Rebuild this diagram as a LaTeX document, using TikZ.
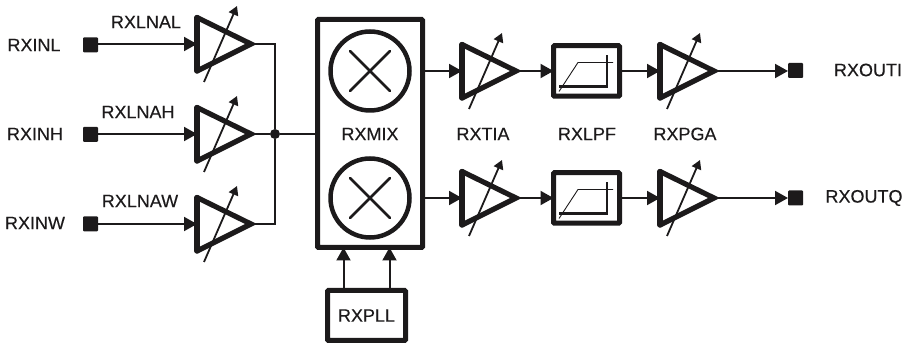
\documentclass[tikz,border=0pt]{standalone}
\usepackage{fontspec}
\setmainfont{Liberation Sans}
\newfontfamily\lblfont[FakeBold=0.3]{Liberation Sans}
\usetikzlibrary{arrows.meta,calc}
\definecolor{ink}{HTML}{1C1A1B}
\tikzset{
  ampline/.style={draw=ink,line width=5.2pt,line cap=round,line join=miter,miter limit=10},
  gain/.style={draw=ink,line width=1.8pt,-{Triangle[length=9pt,width=10pt]}},
  wire/.style={draw=ink,line width=2pt},
  sig/.style={wire,-{Triangle[length=13pt,width=14pt]}},
  pad/.style={rectangle,fill=ink,rounded corners=1pt,minimum size=15pt,inner sep=0pt,outer sep=0pt},
  block/.style={rectangle,draw=ink,line width=5pt,rounded corners=1pt,inner sep=0pt,outer sep=0pt},
  lpfbox/.style={block,minimum width=66pt,minimum height=50.5pt},
  mixc/.style={circle,draw=ink,line width=4.5pt,minimum size=79pt,inner sep=0pt,outer sep=0pt},
  lbl/.style={text=ink,font=\lblfont\fontsize{18}{20}\selectfont,inner sep=0pt},
  junc/.style={circle,fill=ink,minimum size=10pt,inner sep=0pt,outer sep=0pt}
}
% amplifier: #1 = name of the tip, #1i = middle of the input side
\newcommand{\ampl}[3]{%
  \coordinate (#1) at (#2,#3);
  \coordinate (#1i) at ($(#1)+(-54,0)$);
  \coordinate (#1t) at ($(#1)+(-54,-26.5)$);
  \coordinate (#1b) at ($(#1)+(-54,27)$);
  \draw[ampline] (#1t) -- (#1) -- (#1b);
  \draw[ampline] (#1t) -- (#1b);
  \draw[gain] ($(#1)+(-47,38)$) -- ($(#1)+(-14,-38)$);
}
\newcommand{\lpfplot}[1]{%
  \draw[ink,line width=2.2pt] ($(#1.center)+(20.5,-15.5)$) -- ($(#1.center)+(20.5,15.5)$) -- ($(#1.center)+(-27.5,15.5)$);
  \draw[ink,line width=0.9pt] ($(#1.center)+(-27.5,20.5)$) -- ($(#1.center)+(-8.5,-8.5)$) -- ($(#1.center)+(26.5,-8.5)$);
}
\newcommand{\mixx}[1]{%
  \draw[ink,line width=2.5pt,line cap=round] ($(#1.center)+(-20,-20)$) -- ($(#1.center)+(20,20)$);
  \draw[ink,line width=2.5pt,line cap=round] ($(#1.center)+(-20,20)$) -- ($(#1.center)+(20,-20)$);
}
\begin{document}
\begin{tikzpicture}[x=1pt,y=-1pt]
\useasboundingbox (0,0) rectangle (908,344);
% input pads
\node[pad] (pl) at (90.5,45) {};
\node[pad] (ph) at (90.5,134.5) {};
\node[pad] (pw) at (90.5,224) {};
\node[lbl] (tinl) at (34,45) {RXINL};
\node[lbl] (tinh) at (35,134) {RXINH};
\node[lbl] (tinw) at (35,223) {RXINW};
\node[lbl] (tlnal) at (146,22) {RXLNAL};
\node[lbl] (tlnah) at (138,112) {RXLNAH};
\node[lbl] (tlnaw) at (140,201) {RXLNAW};
% LNAs
\ampl{la}{251}{44}
\ampl{lb}{251}{134}
\ampl{lc}{251}{224}
\draw[sig] (pl.east |- la) -- (lai);
\draw[sig] (ph.east |- lb) -- (lbi);
\draw[sig] (pw.east |- lc) -- (lci);
% mixer
\node[block,minimum width=105pt,minimum height=228pt] (mix) at (370,133.5) {};
\node[mixc] (ma) at (370,71) {};
\node[mixc] (mb) at (370,198) {};
\mixx{ma}
\mixx{mb}
\node[lbl] (tmix) at (370,134) {RXMIX};
% junction
\node[junc] (j) at (275,134) {};
\draw[wire] (la) -| (j);
\draw[wire] (lc) -| (j);
\draw[wire] (lb) -- (j);
\draw[wire] (j) -- (j -| mix.west);
% PLL
\node[block,minimum width=78pt,minimum height=50pt] (pll) at (366.5,315.5) {};
\node[lbl] (tpll) at (366.5,315.5) {RXPLL};
\draw[sig] ([xshift=-23pt]pll.north) -- ([xshift=-23pt]pll.north |- mix.south);
\draw[sig] ([xshift=23pt]pll.north) -- ([xshift=23pt]pll.north |- mix.south);
% upper chain
\ampl{ta}{516}{71}
\node[lpfbox] (fa) at (586.5,71) {};
\lpfplot{fa}
\ampl{ga}{714}{71}
\node[pad] (oa) at (795.5,70.5) {};
\draw[sig] (tai -| mix.east) -- (tai);
\draw[sig] (ta) -- (fa.west);
\draw[sig] (fa.east) -- (gai);
\draw[sig] (ga) -- (oa.west |- ga);
% lower chain
\ampl{tb}{516}{198}
\node[lpfbox] (fb) at (586.5,198) {};
\lpfplot{fb}
\ampl{gb}{714}{198}
\node[pad] (ob) at (795.5,198) {};
\draw[sig] (tbi -| mix.east) -- (tbi);
\draw[sig] (tb) -- (fb.west);
\draw[sig] (fb.east) -- (gbi);
\draw[sig] (gb) -- (ob.west);
% labels
\node[lbl] (ttia) at (483,134) {RXTIA};
\node[lbl] (tlpf) at (587,134) {RXLPF};
\node[lbl] (tpga) at (685,134) {RXPGA};
\node[lbl] (toi) at (868,70) {RXOUTI};
\node[lbl] (toq) at (864,198) {RXOUTQ};
\end{tikzpicture}
\end{document}
